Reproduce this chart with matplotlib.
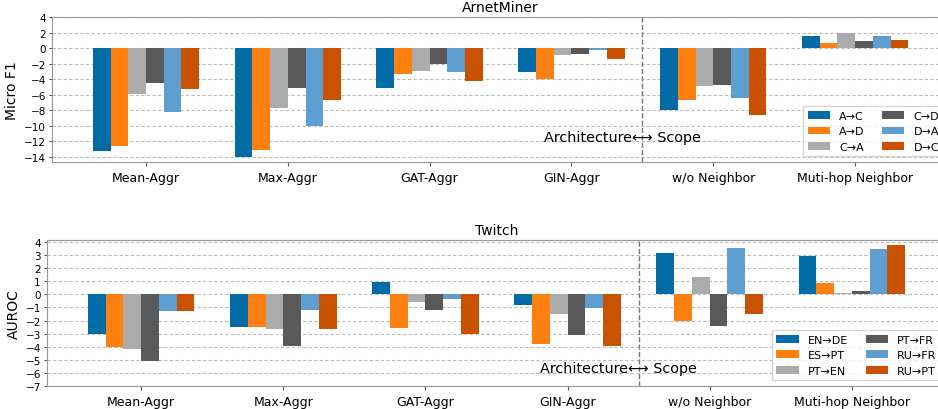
import numpy as np
import matplotlib
matplotlib.use("Agg")
import matplotlib.pyplot as plt

# categories on the x axis (shared by both panels)
methods = ["Mean-Aggr", "Max-Aggr", "GAT-Aggr", "GIN-Aggr", "w/o Neighbor", "Muti-hop Neighbor"]

# ArnetMiner, Micro F1 change
arnet_labels = ["A→C", "A→D", "C→A", "C→D", "D→A", "D→C"]
arnet_AC = [-13.3, -14.0, -5.2, -3.1, -8.0, 1.6]
arnet_AD = [-12.7, -13.2, -3.3, -4.0, -6.7, 0.6]
arnet_CA = [-5.9, -7.8, -2.9, -0.95, -4.9, 2.0]
arnet_CD = [-4.5, -5.1, -2.0, -0.82, -4.8, 0.86]
arnet_DA = [-8.3, -10.1, -3.1, -0.3, -6.4, 1.6]
arnet_DC = [-5.3, -6.7, -4.2, -1.37, -8.7, 1.07]

# Twitch, AUROC change
twitch_labels = ["EN→DE", "ES→PT", "PT→EN", "PT→FR", "RU→FR", "RU→PT"]
twitch_ENDE = [-3.0, -2.5, 0.95, -0.79, 3.17, 2.94]
twitch_ESPT = [-4.0, -2.5, -2.56, -3.79, -2.02, 0.9]
twitch_PTEN = [-4.17, -2.63, -0.56, -1.48, 1.33, 0.1]
twitch_PTFR = [-5.09, -3.94, -1.18, -3.09, -2.4, 0.28]
twitch_RUFR = [-1.25, -1.18, -0.33, -1.02, 3.55, 3.48]
twitch_RUPT = [-1.25, -2.65, -3.02, -3.94, -1.51, 3.79]

colors = ["#006BA4", "#FF800E", "#ABABAB", "#595959", "#5F9ED1", "#C85200"]

fig = plt.figure(figsize=(9.38, 4.10), dpi=100)
ax1 = fig.add_axes([52 / 938, 1 - 163 / 410, 897 / 938, 145 / 410])
ax2 = fig.add_axes([47 / 938, 1 - 386.7 / 410, 899 / 938, 146 / 410])

x = np.arange(len(methods))
width = 0.125


def draw_panel(ax, series, labels, title, ylabel, ylim, yticks, text_y):
    for i, vals in enumerate(series):
        ax.bar(x + (i - 2.5) * width, vals, width, color=colors[i], label=labels[i], zorder=3)
    ax.set_xticks(x)
    ax.set_xticklabels(methods, fontsize=9)
    ax.set_yticks(yticks)
    ax.tick_params(axis="y", labelsize=7.5, length=2.2, pad=2.2, color="#555555")
    ax.tick_params(axis="x", length=3, color="#555555")
    ax.set_ylim(ylim)
    ax.set_xlim(-0.6625, 5.6625)
    ax.set_ylabel(ylabel, fontsize=10, labelpad=3.5)
    ax.set_title(title, fontsize=10, pad=4)
    ax.yaxis.grid(True, linestyle=(0, (3, 2)), color="#bbbbbb", linewidth=0.8, zorder=0)
    ax.axvline(3.5, color="#777777", linestyle="--", linewidth=1.0, zorder=2)
    ax.text(3.36, text_y, "Architecture\u27f7 Scope", ha="center", va="center", fontsize=10.4)
    for s in ax.spines.values():
        s.set_color("#999999")
    ax.legend(ncol=2, loc="lower right", fontsize=8, fancybox=False, columnspacing=1.6)


draw_panel(ax1, [arnet_AC, arnet_AD, arnet_CA, arnet_CD, arnet_DA, arnet_DC], arnet_labels,
           "ArnetMiner", "Micro F1", (-14.7, 4), np.arange(-14, 5, 2), -11.45)
draw_panel(ax2, [twitch_ENDE, twitch_ESPT, twitch_PTEN, twitch_PTFR, twitch_RUFR, twitch_RUPT], twitch_labels,
           "Twitch", "AUROC", (-7, 4.2), np.arange(-7, 5, 1), -5.65)

fig.savefig("out.png", dpi=100)
